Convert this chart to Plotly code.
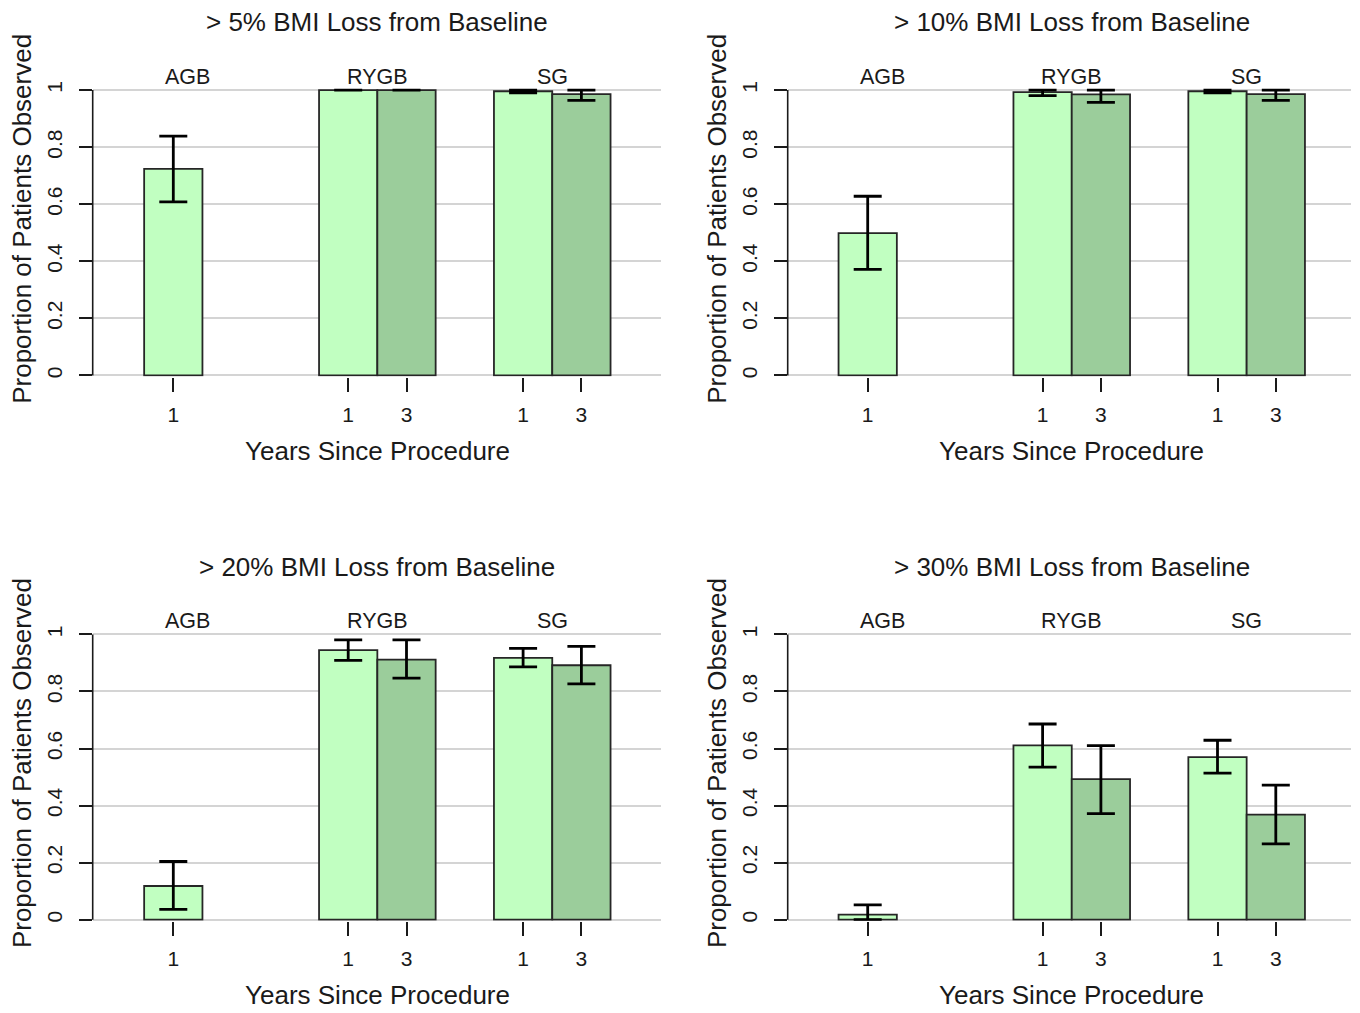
import plotly.graph_objects as go

# ---------------- data ----------------
panel_titles = ["> 5% BMI Loss from Baseline", "> 10% BMI Loss from Baseline",
                "> 20% BMI Loss from Baseline", "> 30% BMI Loss from Baseline"]
groups = ["AGB", "RYGB", "SG"]
group_label_pos = [1.25, 4.5, 7.5]
tick_positions = [1, 4, 5, 7, 8]
tick_labels = ["1", "1", "3", "1", "3"]
y_ticks = [0, 0.2, 0.4, 0.6, 0.8, 1]
y_tick_labels = ["0", "0.2", "0.4", "0.6", "0.8", "1"]

# year-1 bars: AGB, RYGB, SG ; year-3 bars: RYGB, SG
year1_x = [1, 4, 7]
year3_x = [5, 8]

p5_y1 = [0.724, 1.000, 0.996]
p5_y1_lo = [0.608, 1.000, 0.990]
p5_y1_hi = [0.839, 1.000, 1.000]
p5_y3 = [1.000, 0.986]
p5_y3_lo = [1.000, 0.964]
p5_y3_hi = [1.000, 1.000]

p10_y1 = [0.499, 0.993, 0.996]
p10_y1_lo = [0.372, 0.981, 0.990]
p10_y1_hi = [0.628, 1.000, 1.000]
p10_y3 = [0.985, 0.986]
p10_y3_lo = [0.957, 0.964]
p10_y3_hi = [1.000, 1.000]

p20_y1 = [0.118, 0.945, 0.918]
p20_y1_lo = [0.036, 0.909, 0.886]
p20_y1_hi = [0.204, 0.981, 0.951]
p20_y3 = [0.912, 0.892]
p20_y3_lo = [0.847, 0.827]
p20_y3_hi = [0.981, 0.958]

p30_y1 = [0.018, 0.611, 0.570]
p30_y1_lo = [0.000, 0.535, 0.514]
p30_y1_hi = [0.052, 0.686, 0.629]
p30_y3 = [0.493, 0.368]
p30_y3_lo = [0.372, 0.266]
p30_y3_hi = [0.610, 0.472]

panels = [
    (p5_y1, p5_y1_lo, p5_y1_hi, p5_y3, p5_y3_lo, p5_y3_hi),
    (p10_y1, p10_y1_lo, p10_y1_hi, p10_y3, p10_y3_lo, p10_y3_hi),
    (p20_y1, p20_y1_lo, p20_y1_hi, p20_y3, p20_y3_lo, p20_y3_hi),
    (p30_y1, p30_y1_lo, p30_y1_hi, p30_y3, p30_y3_lo, p30_y3_hi),
]

# ---------------- layout geometry (pixels) ----------------
W, H = 1360, 1013
LEFT_AXIS = [92.7, 787.7]
GRID_END = [660.7, 1350.7]
X1_PIX = [173.3, 867.7]
UNIT = 58.3
Y0_PIX = [376.2, 921.5]
Y1_PIX = [90.3, 635.7]
Y_LO, Y_HI = -0.004, 1.06

TITLE_Y = [22, 568]
GROUP_Y = [77, 622]
XTITLE_Y = [452, 997]
YTITLE_X = [22, 717]

LIGHT = "#C1FFC1"
DARK = "#9BCD9B"
FONT = "Liberation Sans, Arial, Helvetica, sans-serif"
TXT = "#1a1a1a"


def px(x):
    return x / W


def py(y):
    return 1 - y / H


fig = go.Figure()
layout_axes = {}
annotations = []
shapes = []

for i, (v1, lo1, hi1, v3, lo3, hi3) in enumerate(panels):
    r, c = divmod(i, 2)
    n = i + 1
    xa = "x" if n == 1 else f"x{n}"
    ya = "y" if n == 1 else f"y{n}"
    xkey = "xaxis" if n == 1 else f"xaxis{n}"
    ykey = "yaxis" if n == 1 else f"yaxis{n}"

    yunit = Y0_PIX[r] - Y1_PIX[r]
    xr = [1 - (X1_PIX[c] - LEFT_AXIS[c]) / UNIT, 1 + (GRID_END[c] - X1_PIX[c]) / UNIT]
    dom_x = [px(LEFT_AXIS[c]), px(GRID_END[c])]
    bot = Y0_PIX[r] - Y_LO * yunit
    top = Y1_PIX[r] - (Y_HI - 1) * yunit
    dom_y = [py(bot), py(top)]

    for xs, vals, lo, hi, col in [(year1_x, v1, lo1, hi1, LIGHT), (year3_x, v3, lo3, hi3, DARK)]:
        fig.add_trace(go.Bar(
            x=xs, y=vals, width=1.0, xaxis=xa, yaxis=ya,
            marker=dict(color=col, line=dict(color="#262626", width=1.8)),
            error_y=dict(type="data", symmetric=False,
                         array=[h - v for h, v in zip(hi, vals)],
                         arrayminus=[v - l for v, l in zip(vals, lo)],
                         color="black", thickness=2.8, width=14),
            showlegend=False, hoverinfo="skip",
        ))

    layout_axes[xkey] = dict(
        domain=dom_x, range=xr, anchor=ya, showgrid=False, zeroline=False,
        showline=False, tickmode="array", tickvals=tick_positions, ticktext=tick_labels,
        ticks="outside", ticklen=14, tickwidth=1.6, tickcolor="#1a1a1a",
        ticklabelstandoff=5,
        tickfont=dict(family=FONT, size=21, color=TXT), fixedrange=True,
    )
    layout_axes[ykey] = dict(
        domain=dom_y, range=[Y_LO, Y_HI], anchor=xa, showgrid=True,
        gridcolor="#d4d4d4", gridwidth=2, zeroline=False, showline=False,
        tickmode="array", tickvals=y_ticks, ticktext=y_tick_labels, tickangle=-90,
        ticks="outside", ticklen=13, tickwidth=1.6, tickcolor="#1a1a1a",
        ticklabelstandoff=8,
        tickfont=dict(family=FONT, size=21, color=TXT), fixedrange=True,
    )

    # y axis line from 0 to 1 (R-style axis)
    shapes.append(dict(type="line", xref=f"{xa} domain", yref=ya, x0=0, x1=0,
                       y0=y_ticks[0], y1=y_ticks[-1],
                       line=dict(color="#1a1a1a", width=1.6)))

    annotations.append(dict(text=panel_titles[i], xref=xa, x=4.5, yref="paper",
                            y=py(TITLE_Y[r]), yanchor="middle", xanchor="center",
                            showarrow=False, font=dict(family=FONT, size=26, color=TXT)))
    for g, gx in zip(groups, group_label_pos):
        annotations.append(dict(text=g, xref=xa, x=gx, yref="paper", y=py(GROUP_Y[r]),
                                yanchor="middle", xanchor="center", showarrow=False,
                                font=dict(family=FONT, size=21.5, color=TXT)))
    annotations.append(dict(text="Years Since Procedure", xref=xa, x=4.5, yref="paper",
                            y=py(XTITLE_Y[r]), yanchor="middle", xanchor="center",
                            showarrow=False, font=dict(family=FONT, size=26, color=TXT)))
    annotations.append(dict(text="Proportion of Patients Observed", xref="paper",
                            x=px(YTITLE_X[c]), yref="paper",
                            y=py((Y0_PIX[r] + Y1_PIX[r]) / 2 - 14),
                            xanchor="center", yanchor="middle", textangle=-90,
                            showarrow=False, font=dict(family=FONT, size=26, color=TXT)))

fig.update_layout(
    width=W, height=H, margin=dict(l=0, r=0, t=0, b=0),
    paper_bgcolor="white", plot_bgcolor="white",
    barmode="overlay", shapes=shapes, annotations=annotations,
    **layout_axes,
)

fig.write_html(
    "out.html",
    config={"displayModeBar": False},
    post_script="document.body.style.margin='0px';document.body.style.padding='0px';"
                "document.documentElement.style.overflow='hidden';",
)
